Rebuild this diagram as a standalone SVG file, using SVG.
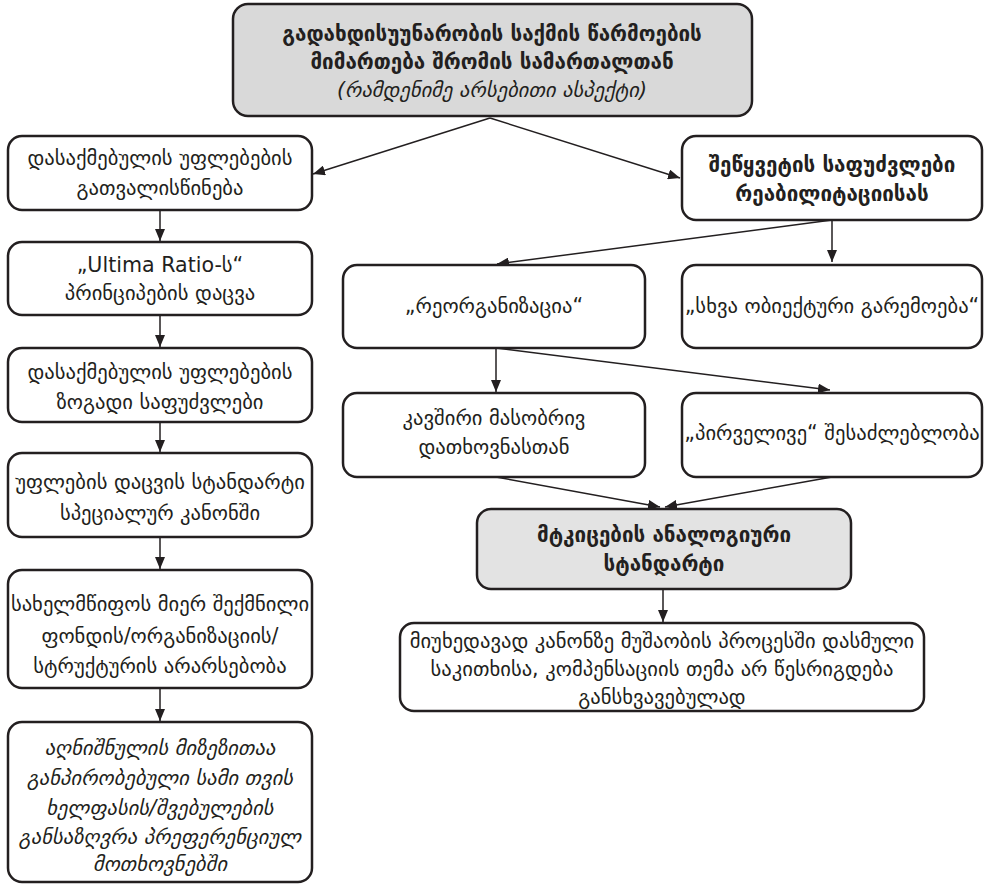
<svg xmlns="http://www.w3.org/2000/svg" width="987" height="884" viewBox="0 0 987 884">
<defs>
<marker id="ah" viewBox="0 0 12 10" refX="12" refY="5" markerWidth="12" markerHeight="10" markerUnits="userSpaceOnUse" orient="auto">
<path d="M0,0 L12,5 L0,10 z" fill="#231f20"/>
</marker>
<style>
.box{fill:#fff;stroke:#231f20;stroke-width:2.5}
.gray{fill:#d9d9d9}
.lgray{fill:#e3e3e3}
text{font-family:"DejaVu Sans",sans-serif;font-size:20.6px;fill:#231f20;text-anchor:middle}
.b{font-weight:bold}
.i{font-style:italic}
.c{fill:none;stroke:#231f20;stroke-width:1.5;marker-end:url(#ah)}
</style>
</defs>
<rect width="987" height="884" fill="#fff"/>
<g id="connectors">
<path class="c" d="M490,118 L313,174"/>
<path class="c" d="M490,118 L680,178"/>
<path class="c" d="M160,210 L160,241"/>
<path class="c" d="M160,315 L160,347"/>
<path class="c" d="M160,422 L160,452"/>
<path class="c" d="M160,537 L160,569"/>
<path class="c" d="M160,688 L160,721"/>
<path class="c" d="M832,220 L497,264"/>
<path class="c" d="M832,220 L832,262"/>
<path class="c" d="M496,348 L496,392"/>
<path class="c" d="M496,348 L830,390"/>
<path class="c" d="M496,477 L660,507"/>
<path class="c" d="M832,477 L665,507"/>
<path class="c" d="M663,589 L663,622"/>
</g>
<g id="n-top">
<rect class="box gray" x="233" y="4" width="519" height="112" rx="15"/>
<text class="b" x="492" y="41">გადახდისუუნარობის საქმის წარმოების</text>
<text class="b" x="492" y="69">მიმართება შრომის სამართალთან</text>
<text class="i" x="492" y="97">(რამდენიმე არსებითი ასპექტი)</text>
</g>
<g id="n-l1">
<rect class="box" x="8" y="136" width="304" height="74" rx="14"/>
<text x="160" y="165">დასაქმებულის უფლებების</text>
<text x="160" y="195">გათვალისწინება</text>
</g>
<g id="n-l2">
<rect class="box" x="8" y="242" width="304" height="73" rx="14"/>
<text x="160" y="272">„Ultima Ratio-ს“</text>
<text x="160" y="300">პრინციპების დაცვა</text>
</g>
<g id="n-l3">
<rect class="box" x="8" y="348" width="304" height="74" rx="14"/>
<text x="160" y="379">დასაქმებულის უფლებების</text>
<text x="160" y="409">ზოგადი საფუძვლები</text>
</g>
<g id="n-l4">
<rect class="box" x="8" y="453" width="304" height="84" rx="14"/>
<text x="160" y="489">უფლების დაცვის სტანდარტი</text>
<text x="160" y="520">სპეციალურ კანონში</text>
</g>
<g id="n-l5">
<rect class="box" x="8" y="570" width="304" height="118" rx="14"/>
<text x="160" y="611">სახელმწიფოს მიერ შექმნილი</text>
<text x="160" y="643">ფონდის/ორგანიზაციის/</text>
<text x="160" y="673">სტრუქტურის არარსებობა</text>
</g>
<g id="n-l6">
<rect class="box" x="8" y="722" width="304" height="160" rx="14"/>
<text class="i" x="160" y="755">აღნიშნულის მიზეზითაა</text>
<text class="i" x="160" y="785">განპირობებული სამი თვის</text>
<text class="i" x="160" y="815">ხელფასის/შვებულების</text>
<text class="i" x="160" y="844">განსაზღვრა პრეფერენციულ</text>
<text class="i" x="160" y="871">მოთხოვნებში</text>
</g>
<g id="n-r1">
<rect class="box" x="682" y="136" width="300" height="84" rx="14"/>
<text class="b" x="832" y="172">შეწყვეტის საფუძვლები</text>
<text class="b" x="832" y="201">რეაბილიტაციისას</text>
</g>
<g id="n-reorg">
<rect class="box" x="343" y="265" width="302" height="83" rx="14"/>
<text x="494" y="313">„რეორგანიზაცია“</text>
</g>
<g id="n-other">
<rect class="box" x="682" y="265" width="300" height="83" rx="14"/>
<text x="832" y="313">„სხვა ობიექტური გარემოება“</text>
</g>
<g id="n-kav">
<rect class="box" x="343" y="393" width="302" height="84" rx="14"/>
<text x="494" y="425">კავშირი მასობრივ</text>
<text x="494" y="454">დათხოვნასთან</text>
</g>
<g id="n-pirv">
<rect class="box" x="682" y="393" width="300" height="84" rx="14"/>
<text x="832" y="440">„პირველივე“ შესაძლებლობა</text>
</g>
<g id="n-mtk">
<rect class="box lgray" x="477" y="509" width="374" height="80" rx="14"/>
<text class="b" x="664" y="542">მტკიცების ანალოგიური</text>
<text class="b" x="664" y="571">სტანდარტი</text>
</g>
<g id="n-bottom">
<rect class="box" x="400" y="623" width="524" height="88" rx="14"/>
<text x="662" y="648">მიუხედავად კანონზე მუშაობის პროცესში დასმული</text>
<text x="662" y="676">საკითხისა, კომპენსაციის თემა არ წესრიგდება</text>
<text x="662" y="704">განსხვავებულად</text>
</g>
</svg>
